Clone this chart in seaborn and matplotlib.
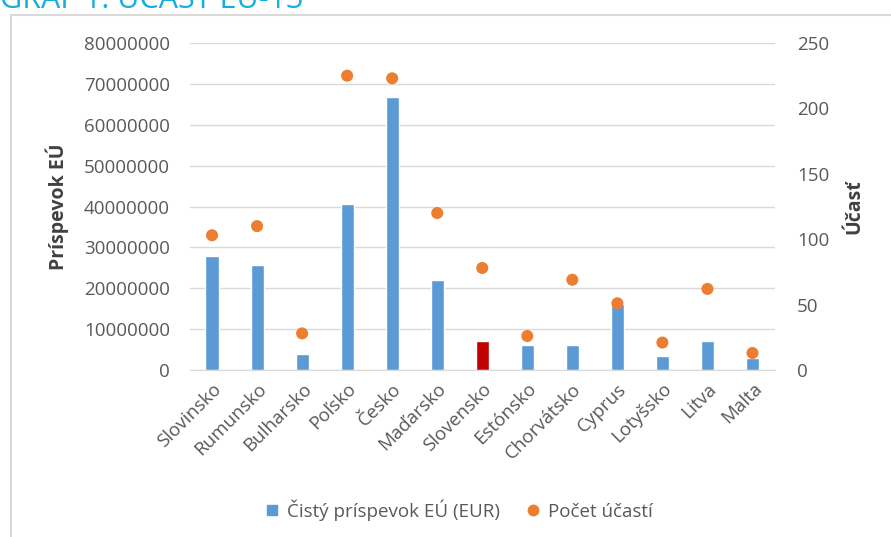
import matplotlib
matplotlib.use("Agg")
import matplotlib.pyplot as plt
import seaborn as sns
import pandas as pd
from matplotlib.lines import Line2D
from matplotlib.patches import Rectangle

# data
countries = ['Slovinsko', 'Rumunsko', 'Bulharsko', 'Poľsko', 'Česko', 'Maďarsko', 'Slovensko',
             'Estónsko', 'Chorvátsko', 'Cyprus', 'Lotyšsko', 'Litva', 'Malta']
contribution = [27900000, 25700000, 3800000, 40500000, 66800000, 22000000, 7000000,
                6100000, 6100000, 16200000, 3400000, 7000000, 3000000]
participations = [103, 110, 28, 225, 223, 120, 78, 26, 69, 51, 21, 62, 13]

df = pd.DataFrame({'country': countries, 'contribution': contribution, 'count': participations})

sns.set_style("white")
plt.rcParams['font.family'] = ['Open Sans', 'DejaVu Sans']

blue = '#5B9BD5'
red = '#C00000'
orange = '#ED7D31'
tick_col = '#595959'

fig = plt.figure(figsize=(8.91, 5.37), dpi=100)
ax = fig.add_axes([189.5 / 891, 167 / 537, (775 - 189.5) / 891, (370 - 43) / 537])

palette = [red if c == 'Slovensko' else blue for c in countries]
sns.barplot(data=df, x='country', y='contribution', hue='country', palette=palette,
            legend=False, width=0.29, saturation=1, ax=ax, zorder=2)
ax.set_ylim(0, 80000000)
ax.set_yticks(range(0, 80000001, 10000000))
ax.set_yticklabels([str(v) for v in range(0, 80000001, 10000000)])
ax.grid(axis='y', color='#D9D9D9', linewidth=1, zorder=0)
ax.set_axisbelow(True)
for s in ['top', 'right', 'left']:
    ax.spines[s].set_visible(False)
ax.spines['bottom'].set_color('#D9D9D9')
ax.tick_params(axis='y', length=0, labelsize=13.5, colors=tick_col, pad=14)
ax.tick_params(axis='x', length=0, labelsize=13.5, colors=tick_col, pad=7)
ax.set_xticks(range(len(countries)))
ax.set_xticklabels(countries, rotation=45, ha='right', rotation_mode='anchor')
ax.set_xlabel('')
ax.set_ylabel('Príspevok EÚ', fontsize=14, fontweight='bold', color='#404040', labelpad=11)

ax2 = ax.twinx()
sns.scatterplot(data=df, x='country', y='count', color=orange, s=75, edgecolor='none',
                ax=ax2, zorder=3)
ax2.set_ylim(0, 250)
ax2.set_yticks(range(0, 251, 50))
for s in ['top', 'right', 'left', 'bottom']:
    ax2.spines[s].set_visible(False)
ax2.tick_params(axis='y', length=0, labelsize=13.5, colors=tick_col, pad=16)
ax2.set_ylabel('Účasť', fontsize=14, fontweight='bold', color='#404040', labelpad=11)
ax.set_xlim(-0.5, len(countries) - 0.5)

handles = [Line2D([], [], marker='s', linestyle='none', color=blue, markersize=7),
           Line2D([], [], marker='o', linestyle='none', color=orange, markersize=7.5)]
fig.legend(handles, ['Čistý príspevok EÚ (EUR)', 'Počet účastí'], loc='center',
           bbox_to_anchor=(453 / 891, 1 - 510 / 537), ncol=2, frameon=False,
           fontsize=13.5, handletextpad=-0.2, columnspacing=0.8, labelcolor=tick_col)

# outer frame and cut-off heading
fig.patches.append(Rectangle((10.5 / 891, -0.1), 1.2, 1 - 14.5 / 537 + 0.1,
                             transform=fig.transFigure, fill=False,
                             edgecolor='#D9D9D9', linewidth=1.5))
fig.text(0, 1 - 8 / 537, 'GRAF 1: ÚČASŤ EÚ-13', color='#14AEDF', fontsize=22,
         va='baseline', ha='left')

fig.savefig('out.png', dpi=100)
